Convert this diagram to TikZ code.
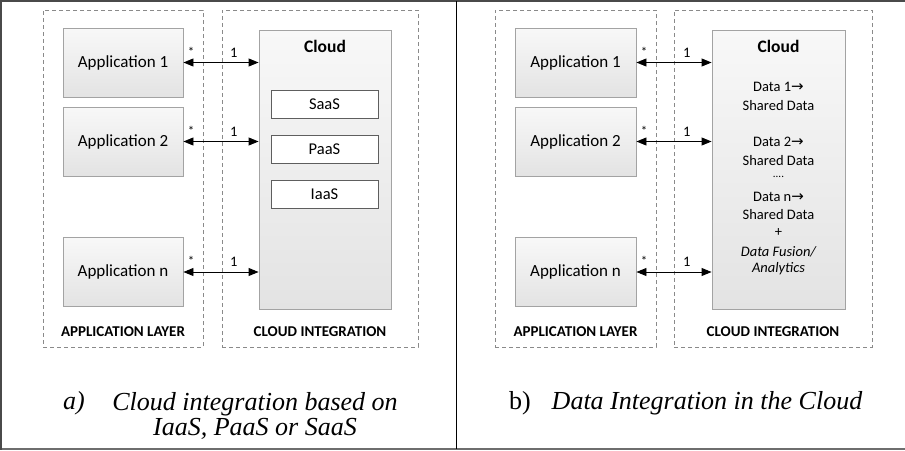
\documentclass[tikz,border=0pt]{standalone}
\usepackage{fontspec}
\setmainfont{Carlito}
\newfontfamily\captionserif{Liberation Serif}
\newfontfamily\symbolfont{DejaVu Sans}
\usetikzlibrary{arrows.meta}

\definecolor{boxline}{HTML}{A3A3A3}
\definecolor{svcline}{HTML}{5E5E5E}
\definecolor{dashline}{HTML}{8A8A8A}
\definecolor{frameline}{HTML}{4A4A4A}
\definecolor{filltop}{HTML}{F8F8F8}
\definecolor{fillbottom}{HTML}{E3E3E3}

\newcommand{\rarr}{{\symbolfont\fontsize{15}{17}\selectfont →}}

\tikzset{
  appbox/.style={draw=boxline, line width=0.9pt, top color=filltop, bottom color=fillbottom,
    minimum width=120pt, minimum height=69pt, inner sep=0pt, font=\fontsize{17}{20}\selectfont},
  cloudbox/.style={draw=boxline, line width=0.9pt, top color=filltop, bottom color=fillbottom,
    minimum width=132pt, minimum height=279pt, inner sep=0pt},
  svcbox/.style={draw=svcline, line width=0.8pt, fill=white, minimum width=107pt,
    minimum height=28pt, inner sep=0pt, font=\fontsize{16.5}{19}\selectfont},
  layerbox/.style={draw=dashline, line width=0.8pt, dash pattern=on 4pt off 3pt,
    minimum height=337pt, inner sep=0pt},
  layerlabel/.style={font=\bfseries\fontsize{15}{17}\selectfont, inner sep=0pt},
  cloudtitle/.style={font=\bfseries\fontsize{17.5}{20}\selectfont, inner sep=0pt},
  datatext/.style={font=\fontsize{14.5}{17}\selectfont, inner sep=0pt},
  multlabel/.style={font=\fontsize{14.5}{16}\selectfont, inner sep=0pt},
  starlabel/.style={font=\fontsize{13}{15}\selectfont, inner sep=0pt},
  link/.style={line width=0.9pt, {Triangle[length=10pt,width=8pt]}-{Triangle[length=10pt,width=8pt]}},
  captiontext/.style={font=\captionserif\itshape\fontsize{26}{25}\selectfont, inner sep=0pt, align=center},
}

\begin{document}
\begin{tikzpicture}[x=1pt, y=-1pt]
  \useasboundingbox (0,0) rectangle (905,450);

  % outer frame and panel divider
  \draw[frameline, line width=1.6pt] (0,1) -- (905,1);
  \draw[frameline!80, line width=1.4pt] (0,448.8) -- (905,448.8);
  \draw[frameline, line width=1.4pt] (1,0) -- (1,450);
  \draw[black, line width=1.1pt] (456.5,1) -- (456.5,449);

  % ---------- panel a: IaaS / PaaS / SaaS ----------
  \node[layerbox, minimum width=160pt] (a-applayer) at (123,178.5) {};
  \node[layerbox, minimum width=196pt] (a-cloudlayer) at (320,178.5) {};
  \node[layerlabel] (a-applabel) at (123,332) {APPLICATION LAYER};
  \node[layerlabel] (a-cloudlabel) at (320,332) {CLOUD INTEGRATION};

  \node[appbox] (a-app1) at (123,62.5) {Application 1};
  \node[appbox] (a-app2) at (123,141.5) {Application 2};
  \node[appbox] (a-appn) at (123,272) {Application n};

  \node[cloudbox] (a-cloud) at (325,169.5) {};
  \node[cloudtitle] (a-cloudtitle) at (325,46) {Cloud};
  \node[svcbox] (a-saas) at (324.5,104) {SaaS};
  \node[svcbox] (a-paas) at (324.5,149) {PaaS};
  \node[svcbox] (a-iaas) at (324.5,194) {IaaS};

  \foreach \app in {app1,app2,appn} {
    \draw[link] (a-\app.east) -- (a-\app.east -| a-cloud.west)
      node[starlabel, pos=0, above right, xshift=4pt, yshift=6pt] {*}
      node[multlabel, pos=0.67, above, yshift=5pt] {1};
  }

  \node[captiontext] (a-tag) at (74,403) {a)};
  \node[captiontext] (a-caption) at (255,415.5) {Cloud integration based on\\IaaS, PaaS or SaaS};

  % ---------- panel b: data integration ----------
  \begin{scope}[xshift=453pt]
    \node[layerbox, minimum width=161pt] (b-applayer) at (122.5,178.5) {};
    \node[layerbox, minimum width=198pt] (b-cloudlayer) at (320,178.5) {};
    \node[layerlabel] (b-applabel) at (122.5,332) {APPLICATION LAYER};
    \node[layerlabel] (b-cloudlabel) at (320,332) {CLOUD INTEGRATION};

    \node[appbox, minimum width=121pt] (b-app1) at (122.5,62.5) {Application 1};
    \node[appbox, minimum width=121pt] (b-app2) at (122.5,141.5) {Application 2};
    \node[appbox, minimum width=121pt] (b-appn) at (122.5,272) {Application n};

    \node[cloudbox, minimum width=133pt] (b-cloud) at (325.5,169.5) {};
    \node[cloudtitle] (b-cloudtitle) at (325.5,46) {Cloud};
    \node[datatext] (b-data1) at (325.5,87) {Data 1\rarr};
    \node[datatext] (b-shared1) at (325.5,106) {Shared Data};
    \node[datatext] (b-data2) at (325.5,142) {Data 2\rarr};
    \node[datatext] (b-shared2) at (325.5,161) {Shared Data};
    \node[datatext, font=\fontsize{11}{12}\selectfont] (b-dots) at (325.5,177) {....};
    \node[datatext] (b-datan) at (325.5,197) {Data n\rarr};
    \node[datatext] (b-sharedn) at (325.5,215) {Shared Data};
    \node[datatext] (b-plus) at (325.5,233) {+};
    \node[datatext, font=\itshape\fontsize{14.5}{17}\selectfont] (b-fusion) at (325.5,252) {Data Fusion/};
    \node[datatext, font=\itshape\fontsize{14.5}{17}\selectfont] (b-analytics) at (325.5,269) {Analytics};

    \foreach \app in {app1,app2,appn} {
      \draw[link] (b-\app.east) -- (b-\app.east -| b-cloud.west)
        node[starlabel, pos=0, above right, xshift=4pt, yshift=6pt] {*}
        node[multlabel, pos=0.67, above, yshift=5pt] {1};
    }

    \node[captiontext, font=\captionserif\fontsize{26}{25}\selectfont] (b-tag) at (67,403) {b)};
    \node[captiontext] (b-caption) at (254,403) {Data Integration in the Cloud};
  \end{scope}
\end{tikzpicture}
\end{document}
